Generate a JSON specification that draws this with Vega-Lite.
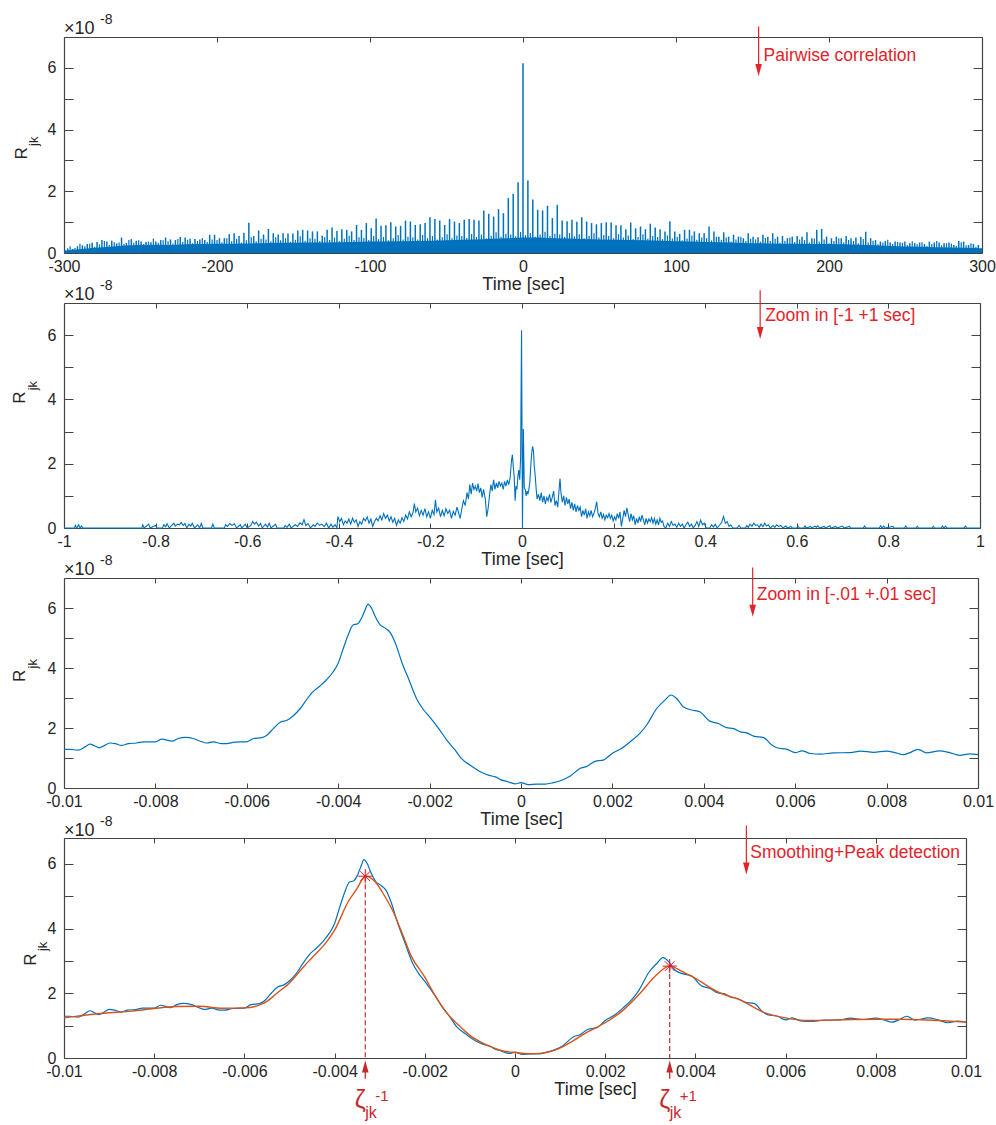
{
"$schema": "https://vega.github.io/schema/vega-lite/v6.json",
"background": "white",
"padding": {"top": 13, "left": 11, "right": 5, "bottom": 5},
"config": {
  "view": {"stroke": null},
  "font": "Liberation Sans",
  "axis": {"grid": false, "labelFont": "Liberation Sans", "labelFontSize": 16, "labelColor": "#262626", "domainColor": "#444444", "domainWidth": 1.2, "tickColor": "#444444", "tickWidth": 1, "titleFont": "Liberation Sans", "titleFontSize": 18, "titleFontWeight": "normal", "titleColor": "#262626", "labelFlush": false, "labelOverlap": false},
  "text": {"font": "Liberation Sans"}
},
"datasets": {
  "p1": [
    {"t":-297.6,"v":0.15},{"t":-294.4,"v":0.13},{"t":-291.2,"v":0.22},{"t":-288,"v":0.25},{"t":-284.8,"v":0.29},{"t":-281.6,"v":0.33},{"t":-278.4,"v":0.36},{"t":-275.2,"v":0.42},{"t":-272,"v":0.37},{"t":-268.8,"v":0.40},
    {"t":-265.6,"v":0.31},{"t":-262.4,"v":0.50},{"t":-259.2,"v":0.33},{"t":-256,"v":0.45},{"t":-252.8,"v":0.40},{"t":-249.6,"v":0.37},{"t":-246.4,"v":0.36},{"t":-243.2,"v":0.35},{"t":-240,"v":0.37},{"t":-236.8,"v":0.42},
    {"t":-233.6,"v":0.50},{"t":-230.4,"v":0.44},{"t":-227.2,"v":0.42},{"t":-224,"v":0.52},{"t":-220.8,"v":0.50},{"t":-217.6,"v":0.46},{"t":-214.4,"v":0.45},{"t":-211.2,"v":0.44},{"t":-208,"v":0.42},{"t":-204.8,"v":0.59},
    {"t":-201.6,"v":0.59},{"t":-198.4,"v":0.48},{"t":-195.2,"v":0.48},{"t":-192,"v":0.61},{"t":-188.8,"v":0.64},{"t":-185.6,"v":0.55},{"t":-182.4,"v":0.66},{"t":-179.2,"v":0.98},{"t":-176,"v":0.55},{"t":-172.8,"v":0.73},
    {"t":-169.6,"v":0.60},{"t":-166.4,"v":0.78},{"t":-163.2,"v":0.64},{"t":-160,"v":0.60},{"t":-156.8,"v":0.64},{"t":-153.6,"v":0.63},{"t":-150.4,"v":0.63},{"t":-147.2,"v":0.73},{"t":-144,"v":0.75},{"t":-140.8,"v":0.73},
    {"t":-137.6,"v":0.70},{"t":-134.4,"v":0.70},{"t":-131.2,"v":0.56},{"t":-128,"v":0.75},{"t":-124.8,"v":0.83},{"t":-121.6,"v":0.71},{"t":-118.4,"v":0.77},{"t":-115.2,"v":0.75},{"t":-112,"v":0.70},{"t":-108.8,"v":0.91},
    {"t":-105.6,"v":0.75},{"t":-102.4,"v":0.97},{"t":-99.2,"v":0.80},{"t":-96,"v":1.12},{"t":-92.8,"v":0.88},{"t":-89.6,"v":0.90},{"t":-86.4,"v":1.00},{"t":-83.2,"v":0.86},{"t":-80,"v":0.88},{"t":-76.8,"v":1.05},
    {"t":-73.6,"v":1.02},{"t":-70.4,"v":0.91},{"t":-67.2,"v":0.93},{"t":-64,"v":0.97},{"t":-60.8,"v":1.16},{"t":-57.6,"v":1.10},{"t":-54.4,"v":1.05},{"t":-51.2,"v":0.91},{"t":-48,"v":1.10},{"t":-44.8,"v":1.02},
    {"t":-41.6,"v":0.97},{"t":-38.4,"v":1.08},{"t":-35.2,"v":1.10},{"t":-32,"v":1.08},{"t":-28.8,"v":1.05},
    {"t":-25.6,"v":1.38},{"t":-22.4,"v":1.27},{"t":-19.2,"v":1.18},{"t":-16,"v":1.42},{"t":-12.8,"v":1.29},{"t":-9.6,"v":1.78},{"t":-6.4,"v":1.92},{"t":-3.2,"v":2.29},
    {"t":0,"v":6.15},
    {"t":3.2,"v":2.35},{"t":6.4,"v":1.73},{"t":9.6,"v":1.40},{"t":12.8,"v":1.38},{"t":16,"v":1.53},{"t":19.2,"v":1.13},{"t":22.4,"v":1.56},{"t":25.6,"v":1.05},{"t":28.8,"v":1.03},{"t":32,"v":1.08},
    {"t":35.2,"v":1.01},{"t":38.4,"v":1.16},{"t":41.6,"v":1.02},{"t":44.8,"v":0.97},{"t":48,"v":0.93},{"t":51.2,"v":0.97},{"t":54.4,"v":1.00},{"t":57.6,"v":0.99},{"t":60.8,"v":0.90},{"t":64,"v":0.90},
    {"t":67.2,"v":0.77},{"t":70.4,"v":0.99},{"t":73.6,"v":0.80},{"t":76.8,"v":0.86},{"t":80,"v":0.77},{"t":83.2,"v":0.95},{"t":86.4,"v":0.83},{"t":89.6,"v":0.77},{"t":92.8,"v":0.70},{"t":96,"v":1.03},
    {"t":99.2,"v":0.70},{"t":102.4,"v":0.62},{"t":105.6,"v":0.75},{"t":108.8,"v":0.75},{"t":112,"v":0.70},{"t":115.2,"v":0.64},{"t":118.4,"v":0.64},{"t":121.6,"v":0.86},{"t":124.8,"v":0.70},{"t":128,"v":0.53},
    {"t":131.2,"v":0.67},{"t":134.4,"v":0.53},{"t":137.6,"v":0.59},{"t":140.8,"v":0.53},{"t":144,"v":0.48},{"t":147.2,"v":0.64},{"t":150.4,"v":0.53},{"t":153.6,"v":0.51},{"t":156.8,"v":0.59},{"t":160,"v":0.53},
    {"t":163.2,"v":0.64},{"t":166.4,"v":0.53},{"t":169.6,"v":0.55},{"t":172.8,"v":0.48},{"t":176,"v":0.53},{"t":179.2,"v":0.55},{"t":182.4,"v":0.53},{"t":185.6,"v":0.67},{"t":188.8,"v":0.48},{"t":192,"v":0.75},
    {"t":195.2,"v":0.78},{"t":198.4,"v":0.53},{"t":201.6,"v":0.48},{"t":204.8,"v":0.53},{"t":208,"v":0.48},{"t":211.2,"v":0.55},{"t":214.4,"v":0.48},{"t":217.6,"v":0.50},{"t":220.8,"v":0.53},{"t":224,"v":0.69},
    {"t":227.2,"v":0.48},{"t":230.4,"v":0.42},{"t":233.6,"v":0.37},{"t":236.8,"v":0.39},{"t":240,"v":0.34},{"t":243.2,"v":0.37},{"t":246.4,"v":0.34},{"t":249.6,"v":0.37},{"t":252.8,"v":0.32},{"t":256,"v":0.32},
    {"t":259.2,"v":0.34},{"t":262.4,"v":0.29},{"t":265.6,"v":0.37},{"t":268.8,"v":0.34},{"t":272,"v":0.34},{"t":275.2,"v":0.32},{"t":278.4,"v":0.34},{"t":281.6,"v":0.26},{"t":284.8,"v":0.39},{"t":288,"v":0.37},
    {"t":291.2,"v":0.26},{"t":294.4,"v":0.29},{"t":297.6,"v":0.26}
  ],
  "p1s": [
    {"t":-296,"v":0.22},{"t":-292.8,"v":0.16},{"t":-289.6,"v":0.30},{"t":-286.4,"v":0.22},{"t":-283.2,"v":0.30},{"t":-280,"v":0.20},{"t":-276.8,"v":0.28},{"t":-273.6,"v":0.39},{"t":-270.4,"v":0.26},{"t":-267.2,"v":0.35},
    {"t":-264,"v":0.34},{"t":-260.8,"v":0.29},{"t":-257.6,"v":0.42},{"t":-254.4,"v":0.33},{"t":-251.2,"v":0.41},{"t":-248,"v":0.29},{"t":-244.8,"v":0.37},{"t":-241.6,"v":0.47},{"t":-238.4,"v":0.33},{"t":-235.2,"v":0.41},
    {"t":-232,"v":0.38},{"t":-228.8,"v":0.31},{"t":-225.6,"v":0.45},{"t":-222.4,"v":0.36},{"t":-219.2,"v":0.43},{"t":-216,"v":0.32},{"t":-212.8,"v":0.39},{"t":-209.6,"v":0.49},{"t":-206.4,"v":0.36},{"t":-203.2,"v":0.44},
    {"t":-200,"v":0.42},{"t":-196.8,"v":0.35},{"t":-193.6,"v":0.48},{"t":-190.4,"v":0.38},{"t":-187.2,"v":0.46},{"t":-184,"v":0.34},{"t":-180.8,"v":0.41},{"t":-177.6,"v":0.51},{"t":-174.4,"v":0.38},{"t":-171.2,"v":0.46},
    {"t":-168,"v":0.44},{"t":-164.8,"v":0.38},{"t":-161.6,"v":0.51},{"t":-158.4,"v":0.41},{"t":-155.2,"v":0.48},{"t":-152,"v":0.36},{"t":-148.8,"v":0.43},{"t":-145.6,"v":0.54},{"t":-142.4,"v":0.40},{"t":-139.2,"v":0.48},
    {"t":-136,"v":0.46},{"t":-132.8,"v":0.39},{"t":-129.6,"v":0.52},{"t":-126.4,"v":0.42},{"t":-123.2,"v":0.50},{"t":-120,"v":0.38},{"t":-116.8,"v":0.46},{"t":-113.6,"v":0.56},{"t":-110.4,"v":0.42},{"t":-107.2,"v":0.51},
    {"t":-104,"v":0.49},{"t":-100.8,"v":0.42},{"t":-97.6,"v":0.55},{"t":-94.4,"v":0.45},{"t":-91.2,"v":0.52},{"t":-88,"v":0.41},{"t":-84.8,"v":0.48},{"t":-81.6,"v":0.58},{"t":-78.4,"v":0.44},{"t":-75.2,"v":0.53},
    {"t":-72,"v":0.51},{"t":-68.8,"v":0.44},{"t":-65.6,"v":0.58},{"t":-62.4,"v":0.48},{"t":-59.2,"v":0.55},{"t":-56,"v":0.44},{"t":-52.8,"v":0.51},{"t":-49.6,"v":0.61},{"t":-46.4,"v":0.48},{"t":-43.2,"v":0.57},
    {"t":-40,"v":0.55},{"t":-36.8,"v":0.49},{"t":-33.6,"v":0.62},{"t":-30.4,"v":0.52},{"t":-27.2,"v":0.60},{"t":-24,"v":0.48},{"t":-20.8,"v":0.56},{"t":-17.6,"v":0.67},{"t":-14.4,"v":0.53},{"t":-11.2,"v":0.62},
    {"t":-8,"v":0.60},{"t":-4.8,"v":0.54},{"t":-1.6,"v":0.68},{"t":1.6,"v":0.58},{"t":4.8,"v":0.65},{"t":8,"v":0.53},{"t":11.2,"v":0.60},{"t":14.4,"v":0.69},{"t":17.6,"v":0.55},{"t":20.8,"v":0.62},
    {"t":24,"v":0.60},{"t":27.2,"v":0.52},{"t":30.4,"v":0.65},{"t":33.6,"v":0.54},{"t":36.8,"v":0.61},{"t":40,"v":0.48},{"t":43.2,"v":0.55},{"t":46.4,"v":0.64},{"t":49.6,"v":0.50},{"t":52.8,"v":0.58},
    {"t":56,"v":0.55},{"t":59.2,"v":0.48},{"t":62.4,"v":0.61},{"t":65.6,"v":0.50},{"t":68.8,"v":0.57},{"t":72,"v":0.45},{"t":75.2,"v":0.52},{"t":78.4,"v":0.61},{"t":81.6,"v":0.47},{"t":84.8,"v":0.55},
    {"t":88,"v":0.52},{"t":91.2,"v":0.45},{"t":94.4,"v":0.57},{"t":97.6,"v":0.47},{"t":100.8,"v":0.53},{"t":104,"v":0.41},{"t":107.2,"v":0.47},{"t":110.4,"v":0.57},{"t":113.6,"v":0.43},{"t":116.8,"v":0.50},
    {"t":120,"v":0.48},{"t":123.2,"v":0.41},{"t":126.4,"v":0.53},{"t":129.6,"v":0.43},{"t":132.8,"v":0.50},{"t":136,"v":0.37},{"t":139.2,"v":0.44},{"t":142.4,"v":0.53},{"t":145.6,"v":0.39},{"t":148.8,"v":0.46},
    {"t":152,"v":0.44},{"t":155.2,"v":0.37},{"t":158.4,"v":0.49},{"t":161.6,"v":0.39},{"t":164.8,"v":0.46},{"t":168,"v":0.33},{"t":171.2,"v":0.40},{"t":174.4,"v":0.50},{"t":177.6,"v":0.36},{"t":180.8,"v":0.44},
    {"t":184,"v":0.42},{"t":187.2,"v":0.34},{"t":190.4,"v":0.47},{"t":193.6,"v":0.37},{"t":196.8,"v":0.44},{"t":200,"v":0.32},{"t":203.2,"v":0.39},{"t":206.4,"v":0.48},{"t":209.6,"v":0.34},{"t":212.8,"v":0.42},
    {"t":216,"v":0.39},{"t":219.2,"v":0.32},{"t":222.4,"v":0.45},{"t":225.6,"v":0.34},{"t":228.8,"v":0.40},{"t":232,"v":0.28},{"t":235.2,"v":0.34},{"t":238.4,"v":0.43},{"t":241.6,"v":0.29},{"t":244.8,"v":0.36},
    {"t":248,"v":0.33},{"t":251.2,"v":0.26},{"t":254.4,"v":0.38},{"t":257.6,"v":0.28},{"t":260.8,"v":0.35},{"t":264,"v":0.23},{"t":267.2,"v":0.29},{"t":270.4,"v":0.39},{"t":273.6,"v":0.25},{"t":276.8,"v":0.32},
    {"t":280,"v":0.30},{"t":283.2,"v":0.23},{"t":286.4,"v":0.35},{"t":289.6,"v":0.25},{"t":292.8,"v":0.32},{"t":296,"v":0.20}
  ],
  "p1band": [
    {"t":-300,"v":0.08},{"t":-290,"v":0.12},{"t":-280,"v":0.17},{"t":-270,"v":0.2},{"t":-260,"v":0.24},{"t":-250,"v":0.26},{"t":-240,"v":0.27},{"t":-230,"v":0.26},{"t":-220,"v":0.28},{"t":-210,"v":0.29},
    {"t":-200,"v":0.3},{"t":-190,"v":0.3},{"t":-180,"v":0.31},{"t":-170,"v":0.32},{"t":-160,"v":0.33},{"t":-150,"v":0.33},{"t":-140,"v":0.34},{"t":-130,"v":0.34},{"t":-120,"v":0.35},{"t":-110,"v":0.36},
    {"t":-100,"v":0.37},{"t":-90,"v":0.37},{"t":-80,"v":0.38},{"t":-70,"v":0.39},{"t":-60,"v":0.4},{"t":-50,"v":0.41},{"t":-40,"v":0.43},{"t":-30,"v":0.44},{"t":-20,"v":0.46},{"t":-10,"v":0.48},
    {"t":0,"v":0.5},{"t":10,"v":0.5},{"t":20,"v":0.48},{"t":30,"v":0.47},{"t":40,"v":0.45},{"t":50,"v":0.44},{"t":60,"v":0.43},{"t":70,"v":0.42},{"t":80,"v":0.41},{"t":90,"v":0.4},
    {"t":100,"v":0.38},{"t":110,"v":0.37},{"t":120,"v":0.36},{"t":130,"v":0.35},{"t":140,"v":0.33},{"t":150,"v":0.32},{"t":160,"v":0.31},{"t":170,"v":0.3},{"t":180,"v":0.3},{"t":190,"v":0.29},
    {"t":200,"v":0.29},{"t":210,"v":0.28},{"t":220,"v":0.27},{"t":230,"v":0.25},{"t":240,"v":0.23},{"t":250,"v":0.21},{"t":260,"v":0.2},{"t":270,"v":0.19},{"t":280,"v":0.18},{"t":290,"v":0.17},{"t":300,"v":0.15}
  ],
  "p2": [
    {"t":-1.0,"v":0},{"t":-0.977,"v":0},{"t":-0.975,"v":0.08},{"t":-0.972,"v":0},{"t":-0.968,"v":0.1},{"t":-0.965,"v":0},{"t":-0.962,"v":0.06},{"t":-0.959,"v":0},
    {"t":-0.83,"v":0},{"t":-0.828,"v":0.1},{"t":-0.825,"v":0},{"t":-0.815,"v":0.12},{"t":-0.812,"v":0},{"t":-0.8,"v":0.08},{"t":-0.797,"v":0},{"t":-0.785,"v":0},{"t":-0.782,"v":0.1},{"t":-0.778,"v":0.04},
    {"t":-0.775,"v":0.13},{"t":-0.77,"v":0},{"t":-0.765,"v":0.08},{"t":-0.76,"v":0.15},{"t":-0.757,"v":0.06},{"t":-0.752,"v":0.12},{"t":-0.748,"v":0.1},{"t":-0.744,"v":0.17},{"t":-0.74,"v":0.08},{"t":-0.736,"v":0.14},
    {"t":-0.732,"v":0},{"t":-0.727,"v":0.12},{"t":-0.723,"v":0.06},{"t":-0.72,"v":0.15},{"t":-0.715,"v":0},{"t":-0.708,"v":0.1},{"t":-0.704,"v":0},{"t":-0.7,"v":0.14},{"t":-0.697,"v":0},{"t":-0.678,"v":0},
    {"t":-0.675,"v":0.12},{"t":-0.672,"v":0},{"t":-0.65,"v":0},{"t":-0.647,"v":0.1},{"t":-0.643,"v":0.05},{"t":-0.638,"v":0.14},{"t":-0.633,"v":0.08},{"t":-0.628,"v":0.13},{"t":-0.623,"v":0},{"t":-0.615,"v":0.1},
    {"t":-0.612,"v":0},{"t":-0.604,"v":0.12},{"t":-0.6,"v":0},{"t":-0.592,"v":0.08},{"t":-0.588,"v":0.2},{"t":-0.584,"v":0.12},{"t":-0.58,"v":0.18},{"t":-0.575,"v":0.06},{"t":-0.571,"v":0.14},{"t":-0.567,"v":0},
    {"t":-0.56,"v":0.12},{"t":-0.556,"v":0.03},{"t":-0.552,"v":0.15},{"t":-0.548,"v":0},{"t":-0.538,"v":0.12},{"t":-0.535,"v":0},{"t":-0.52,"v":0},{"t":-0.517,"v":0.08},{"t":-0.513,"v":0.02},{"t":-0.508,"v":0.12},
    {"t":-0.504,"v":0},{"t":-0.495,"v":0.1},{"t":-0.49,"v":0.05},{"t":-0.485,"v":0.16},{"t":-0.48,"v":0.1},{"t":-0.476,"v":0.26},{"t":-0.472,"v":0.08},{"t":-0.467,"v":0.14},{"t":-0.462,"v":0},{"t":-0.456,"v":0.1},
    {"t":-0.452,"v":0.05},{"t":-0.447,"v":0.15},{"t":-0.442,"v":0.08},{"t":-0.437,"v":0.12},{"t":-0.432,"v":0.04},{"t":-0.427,"v":0.15},{"t":-0.422,"v":0},{"t":-0.417,"v":0.12},{"t":-0.413,"v":0.02},{"t":-0.408,"v":0.1},
    {"t":-0.404,"v":0},{"t":-0.402,"v":0.36},{"t":-0.398,"v":0.2},{"t":-0.394,"v":0.3},{"t":-0.39,"v":0.1},{"t":-0.386,"v":0.22},{"t":-0.382,"v":0.15},{"t":-0.378,"v":0.28},{"t":-0.374,"v":0.12},{"t":-0.37,"v":0.3},
    {"t":-0.366,"v":0.18},{"t":-0.362,"v":0.25},{"t":-0.358,"v":0.05},{"t":-0.354,"v":0.2},{"t":-0.35,"v":0.12},{"t":-0.346,"v":0.3},{"t":-0.342,"v":0.22},{"t":-0.338,"v":0.35},{"t":-0.334,"v":0.15},{"t":-0.33,"v":0.28},
    {"t":-0.326,"v":0.05},{"t":-0.322,"v":0.2},{"t":-0.318,"v":0.3},{"t":-0.314,"v":0.22},{"t":-0.31,"v":0.38},{"t":-0.306,"v":0.25},{"t":-0.302,"v":0.45},{"t":-0.298,"v":0.3},{"t":-0.294,"v":0.4},{"t":-0.29,"v":0.22},
    {"t":-0.286,"v":0.35},{"t":-0.282,"v":0.18},{"t":-0.278,"v":0.3},{"t":-0.274,"v":0.08},{"t":-0.27,"v":0.25},{"t":-0.266,"v":0.15},{"t":-0.262,"v":0.32},{"t":-0.258,"v":0.2},{"t":-0.254,"v":0.4},{"t":-0.25,"v":0.28},
    {"t":-0.246,"v":0.5},{"t":-0.242,"v":0.35},{"t":-0.238,"v":0.48},{"t":-0.235,"v":0.76},{"t":-0.232,"v":0.5},{"t":-0.228,"v":0.62},{"t":-0.224,"v":0.38},{"t":-0.22,"v":0.55},{"t":-0.216,"v":0.4},{"t":-0.212,"v":0.6},
    {"t":-0.208,"v":0.35},{"t":-0.204,"v":0.5},{"t":-0.2,"v":0.3},{"t":-0.196,"v":0.55},{"t":-0.192,"v":0.42},{"t":-0.189,"v":0.88},{"t":-0.186,"v":0.5},{"t":-0.182,"v":0.62},{"t":-0.178,"v":0.35},{"t":-0.174,"v":0.55},
    {"t":-0.17,"v":0.38},{"t":-0.166,"v":0.6},{"t":-0.162,"v":0.45},{"t":-0.158,"v":0.55},{"t":-0.154,"v":0.3},{"t":-0.15,"v":0.52},{"t":-0.146,"v":0.4},{"t":-0.142,"v":0.65},{"t":-0.138,"v":0.45},{"t":-0.135,"v":0.3},
    {"t":-0.132,"v":0.55},{"t":-0.128,"v":0.85},{"t":-0.124,"v":0.7},{"t":-0.12,"v":1.1},{"t":-0.117,"v":0.9},{"t":-0.114,"v":1.35},{"t":-0.111,"v":1.05},{"t":-0.108,"v":1.4},{"t":-0.105,"v":1.2},{"t":-0.102,"v":1.3},
    {"t":-0.099,"v":1.15},{"t":-0.096,"v":1.38},{"t":-0.093,"v":1.1},{"t":-0.09,"v":1.25},{"t":-0.087,"v":0.95},{"t":-0.084,"v":1.2},{"t":-0.08,"v":0.9},{"t":-0.077,"v":0.35},{"t":-0.074,"v":0.6},{"t":-0.071,"v":1.0},
    {"t":-0.068,"v":1.35},{"t":-0.065,"v":1.15},{"t":-0.062,"v":1.5},{"t":-0.059,"v":1.2},{"t":-0.056,"v":1.4},{"t":-0.053,"v":1.25},{"t":-0.05,"v":1.45},{"t":-0.047,"v":1.3},{"t":-0.044,"v":1.4},{"t":-0.041,"v":1.2},
    {"t":-0.038,"v":1.45},{"t":-0.035,"v":1.3},{"t":-0.032,"v":1.5},{"t":-0.029,"v":1.35},{"t":-0.026,"v":1.55},{"t":-0.023,"v":2.1},{"t":-0.021,"v":2.28},{"t":-0.019,"v":1.9},{"t":-0.017,"v":1.6},{"t":-0.015,"v":0.85},
    {"t":-0.013,"v":1.3},{"t":-0.011,"v":1.2},{"t":-0.009,"v":1.6},{"t":-0.007,"v":1.8},{"t":-0.005,"v":1.5},{"t":-0.003,"v":2.2},{"t":-0.001,"v":6.15},{"t":0.001,"v":0},{"t":0.003,"v":3.08},{"t":0.005,"v":1.25},
    {"t":0.007,"v":1.2},{"t":0.009,"v":1.0},{"t":0.011,"v":1.15},{"t":0.013,"v":1.05},{"t":0.015,"v":1.2},{"t":0.017,"v":1.4},{"t":0.019,"v":1.9},{"t":0.021,"v":2.3},{"t":0.023,"v":2.54},{"t":0.025,"v":2.4},
    {"t":0.027,"v":1.9},{"t":0.029,"v":1.6},{"t":0.031,"v":1.2},{"t":0.033,"v":0.9},{"t":0.036,"v":1.05},{"t":0.039,"v":0.85},{"t":0.042,"v":1.1},{"t":0.045,"v":0.8},{"t":0.048,"v":1.0},{"t":0.051,"v":0.75},
    {"t":0.054,"v":0.95},{"t":0.057,"v":0.85},{"t":0.06,"v":1.05},{"t":0.063,"v":0.8},{"t":0.066,"v":0.95},{"t":0.069,"v":1.15},{"t":0.072,"v":0.7},{"t":0.075,"v":0.85},{"t":0.078,"v":0.65},{"t":0.081,"v":1.2},
    {"t":0.083,"v":1.54},{"t":0.085,"v":1.1},{"t":0.088,"v":0.8},{"t":0.091,"v":1.0},{"t":0.094,"v":0.7},{"t":0.097,"v":0.95},{"t":0.1,"v":0.75},{"t":0.103,"v":0.9},{"t":0.106,"v":0.6},{"t":0.109,"v":0.8},
    {"t":0.112,"v":0.55},{"t":0.115,"v":0.75},{"t":0.118,"v":0.5},{"t":0.121,"v":0.7},{"t":0.124,"v":0.55},{"t":0.127,"v":0.65},{"t":0.13,"v":0.35},{"t":0.133,"v":0.55},{"t":0.136,"v":0.4},{"t":0.139,"v":0.6},
    {"t":0.142,"v":0.3},{"t":0.145,"v":0.5},{"t":0.148,"v":0.38},{"t":0.151,"v":0.55},{"t":0.154,"v":0.35},{"t":0.157,"v":0.45},{"t":0.16,"v":0.6},{"t":0.163,"v":0.82},{"t":0.166,"v":0.45},{"t":0.169,"v":0.35},
    {"t":0.172,"v":0.5},{"t":0.175,"v":0.3},{"t":0.178,"v":0.42},{"t":0.181,"v":0.25},{"t":0.184,"v":0.4},{"t":0.187,"v":0.32},{"t":0.19,"v":0.45},{"t":0.193,"v":0.3},{"t":0.196,"v":0.4},{"t":0.199,"v":0.22},
    {"t":0.202,"v":0.35},{"t":0.205,"v":0.25},{"t":0.208,"v":0.45},{"t":0.211,"v":0.3},{"t":0.214,"v":0.5},{"t":0.217,"v":0.05},{"t":0.22,"v":0.3},{"t":0.223,"v":0.55},{"t":0.226,"v":0.35},{"t":0.229,"v":0.63},
    {"t":0.232,"v":0.4},{"t":0.235,"v":0.2},{"t":0.238,"v":0.45},{"t":0.241,"v":0.25},{"t":0.244,"v":0.38},{"t":0.247,"v":0.1},{"t":0.25,"v":0.3},{"t":0.253,"v":0.15},{"t":0.256,"v":0.35},{"t":0.259,"v":0.2},
    {"t":0.262,"v":0.4},{"t":0.265,"v":0.25},{"t":0.268,"v":0.1},{"t":0.271,"v":0.3},{"t":0.274,"v":0.15},{"t":0.277,"v":0.28},{"t":0.28,"v":0.2},{"t":0.283,"v":0.32},{"t":0.286,"v":0.15},{"t":0.289,"v":0.3},
    {"t":0.292,"v":0.12},{"t":0.295,"v":0.25},{"t":0.298,"v":0.1},{"t":0.301,"v":0.3},{"t":0.304,"v":0.18},{"t":0.307,"v":0.22},{"t":0.31,"v":0.05},{"t":0.314,"v":0},{"t":0.318,"v":0.15},{"t":0.322,"v":0.05},
    {"t":0.326,"v":0.2},{"t":0.33,"v":0.08},{"t":0.334,"v":0.12},{"t":0.338,"v":0.02},{"t":0.342,"v":0.15},{"t":0.346,"v":0.05},{"t":0.35,"v":0.12},{"t":0.354,"v":0},{"t":0.358,"v":0.1},{"t":0.362,"v":0.18},
    {"t":0.366,"v":0.05},{"t":0.37,"v":0.12},{"t":0.374,"v":0},{"t":0.378,"v":0.08},{"t":0.382,"v":0.2},{"t":0.386,"v":0.05},{"t":0.39,"v":0.25},{"t":0.394,"v":0.1},{"t":0.398,"v":0.15},{"t":0.402,"v":0},
    {"t":0.41,"v":0},{"t":0.414,"v":0.1},{"t":0.418,"v":0.03},{"t":0.422,"v":0.12},{"t":0.426,"v":0},{"t":0.432,"v":0.1},{"t":0.436,"v":0.18},{"t":0.44,"v":0.36},{"t":0.444,"v":0.15},{"t":0.448,"v":0.2},
    {"t":0.452,"v":0.05},{"t":0.456,"v":0.1},{"t":0.46,"v":0},{"t":0.47,"v":0},{"t":0.474,"v":0.08},{"t":0.478,"v":0},{"t":0.488,"v":0},{"t":0.491,"v":0.08},{"t":0.494,"v":0.02},{"t":0.498,"v":0.12},
    {"t":0.502,"v":0.05},{"t":0.506,"v":0.15},{"t":0.51,"v":0.08},{"t":0.514,"v":0.1},{"t":0.518,"v":0.02},{"t":0.522,"v":0.12},{"t":0.526,"v":0.04},{"t":0.53,"v":0.15},{"t":0.534,"v":0.06},{"t":0.538,"v":0.1},
    {"t":0.542,"v":0},{"t":0.548,"v":0.08},{"t":0.552,"v":0.02},{"t":0.556,"v":0.1},{"t":0.56,"v":0.05},{"t":0.565,"v":0.08},{"t":0.57,"v":0},{"t":0.576,"v":0.06},{"t":0.58,"v":0},{"t":0.587,"v":0.05},
    {"t":0.59,"v":0},{"t":0.6,"v":0},{"t":0.603,"v":0.05},{"t":0.606,"v":0},{"t":0.615,"v":0},{"t":0.618,"v":0.06},{"t":0.621,"v":0},{"t":0.63,"v":0.05},{"t":0.633,"v":0},{"t":0.64,"v":0.06},
    {"t":0.643,"v":0.02},{"t":0.646,"v":0.07},{"t":0.65,"v":0},{"t":0.66,"v":0.05},{"t":0.663,"v":0},{"t":0.672,"v":0.07},{"t":0.675,"v":0},{"t":0.685,"v":0.05},{"t":0.688,"v":0},{"t":0.7,"v":0.06},
    {"t":0.703,"v":0},{"t":0.715,"v":0.05},{"t":0.718,"v":0},{"t":0.745,"v":0},{"t":0.748,"v":0.06},{"t":0.751,"v":0},{"t":0.78,"v":0},{"t":0.783,"v":0.07},{"t":0.786,"v":0},{"t":0.79,"v":0.06},
    {"t":0.793,"v":0},{"t":0.81,"v":0.05},{"t":0.813,"v":0},{"t":0.835,"v":0},{"t":0.838,"v":0.06},{"t":0.841,"v":0},{"t":0.86,"v":0},{"t":0.863,"v":0.05},{"t":0.866,"v":0},{"t":0.895,"v":0},
    {"t":0.898,"v":0.05},{"t":0.901,"v":0},{"t":0.915,"v":0},{"t":0.918,"v":0.06},{"t":0.921,"v":0},{"t":0.925,"v":0.05},{"t":0.928,"v":0},{"t":0.965,"v":0},{"t":0.968,"v":0.06},{"t":0.971,"v":0},{"t":1.0,"v":0}
  ],
  "p3": [
    {"t":-0.01,"v":1.29},{"t":-0.00987,"v":1.29},{"t":-0.00969,"v":1.26},{"t":-0.00954,"v":1.37},{"t":-0.00943,"v":1.46},{"t":-0.00932,"v":1.40},{"t":-0.00923,"v":1.34},{"t":-0.0091,"v":1.43},{"t":-0.00899,"v":1.50},{"t":-0.00888,"v":1.48},
    {"t":-0.00874,"v":1.42},{"t":-0.00859,"v":1.48},{"t":-0.00841,"v":1.50},{"t":-0.00826,"v":1.54},{"t":-0.008,"v":1.54},{"t":-0.00786,"v":1.63},{"t":-0.00764,"v":1.56},{"t":-0.0075,"v":1.65},{"t":-0.00735,"v":1.69},{"t":-0.00717,"v":1.65},
    {"t":-0.00702,"v":1.56},{"t":-0.00688,"v":1.50},{"t":-0.00673,"v":1.54},{"t":-0.00655,"v":1.48},{"t":-0.00644,"v":1.48},{"t":-0.00626,"v":1.53},{"t":-0.006,"v":1.54},{"t":-0.00585,"v":1.65},{"t":-0.00567,"v":1.68},{"t":-0.00556,"v":1.76},
    {"t":-0.00542,"v":1.98},{"t":-0.00527,"v":2.19},{"t":-0.00512,"v":2.26},{"t":-0.00498,"v":2.41},{"t":-0.00483,"v":2.65},{"t":-0.00469,"v":2.95},{"t":-0.00455,"v":3.21},{"t":-0.0044,"v":3.40},{"t":-0.00426,"v":3.60},{"t":-0.00412,"v":3.85},
    {"t":-0.004,"v":4.16},{"t":-0.0039,"v":4.60},{"t":-0.00378,"v":5.11},{"t":-0.00367,"v":5.44},{"t":-0.00358,"v":5.47},{"t":-0.00349,"v":5.66},{"t":-0.00341,"v":5.94},{"t":-0.00335,"v":6.13},{"t":-0.00328,"v":6.02},{"t":-0.00319,"v":5.72},
    {"t":-0.00308,"v":5.44},{"t":-0.00297,"v":5.33},{"t":-0.00286,"v":5.18},{"t":-0.00275,"v":4.83},{"t":-0.0026,"v":4.16},{"t":-0.00245,"v":3.60},{"t":-0.00227,"v":2.93},{"t":-0.00213,"v":2.60},{"t":-0.002,"v":2.37},{"t":-0.0018,"v":1.98},
    {"t":-0.00162,"v":1.59},{"t":-0.00144,"v":1.26},{"t":-0.00129,"v":0.96},{"t":-0.00111,"v":0.76},{"t":-0.00089,"v":0.54},{"t":-0.0007,"v":0.42},{"t":-0.00056,"v":0.37},{"t":-0.00045,"v":0.28},{"t":-0.00031,"v":0.22},{"t":-0.00013,"v":0.14},
    {"t":0,"v":0.18},{"t":0.00016,"v":0.11},{"t":0.00034,"v":0.13},{"t":0.00053,"v":0.13},{"t":0.00071,"v":0.18},{"t":0.00089,"v":0.26},{"t":0.00107,"v":0.39},{"t":0.00129,"v":0.65},{"t":0.00144,"v":0.72},{"t":0.00162,"v":0.89},
    {"t":0.0018,"v":0.93},{"t":0.00201,"v":1.17},{"t":0.0022,"v":1.32},{"t":0.00239,"v":1.54},{"t":0.0026,"v":1.82},{"t":0.00275,"v":2.10},{"t":0.00297,"v":2.65},{"t":0.00315,"v":2.93},{"t":0.00328,"v":3.10},{"t":0.0034,"v":2.99},
    {"t":0.00355,"v":2.71},{"t":0.00373,"v":2.60},{"t":0.00391,"v":2.54},{"t":0.00413,"v":2.23},{"t":0.00432,"v":2.15},{"t":0.0045,"v":2.01},{"t":0.00465,"v":1.98},{"t":0.0048,"v":1.87},{"t":0.00494,"v":1.84},{"t":0.00509,"v":1.73},
    {"t":0.00531,"v":1.68},{"t":0.00549,"v":1.43},{"t":0.0056,"v":1.34},{"t":0.00582,"v":1.29},{"t":0.006,"v":1.18},{"t":0.00615,"v":1.24},{"t":0.00633,"v":1.15},{"t":0.00655,"v":1.13},{"t":0.00684,"v":1.17},{"t":0.00721,"v":1.18},
    {"t":0.00743,"v":1.23},{"t":0.00772,"v":1.19},{"t":0.008,"v":1.23},{"t":0.00818,"v":1.18},{"t":0.00836,"v":1.11},{"t":0.00851,"v":1.18},{"t":0.00869,"v":1.29},{"t":0.00887,"v":1.17},{"t":0.00916,"v":1.24},{"t":0.00938,"v":1.18},
    {"t":0.0096,"v":1.09},{"t":0.00982,"v":1.14},{"t":0.01,"v":1.11}
  ],
  "p4s": [
    {"t":-0.01,"v":1.24},{"t":-0.0095,"v":1.33},{"t":-0.009,"v":1.40},{"t":-0.0085,"v":1.45},{"t":-0.008,"v":1.53},{"t":-0.0075,"v":1.59},{"t":-0.007,"v":1.60},{"t":-0.0065,"v":1.54},{"t":-0.006,"v":1.55},{"t":-0.0057,"v":1.62},
    {"t":-0.0055,"v":1.75},{"t":-0.0053,"v":1.98},{"t":-0.005,"v":2.32},{"t":-0.0047,"v":2.80},{"t":-0.0045,"v":3.10},{"t":-0.0042,"v":3.55},{"t":-0.004,"v":3.95},{"t":-0.0037,"v":4.83},{"t":-0.0035,"v":5.24},{"t":-0.00332,"v":5.62},
    {"t":-0.0031,"v":5.45},{"t":-0.0029,"v":5.03},{"t":-0.0027,"v":4.52},{"t":-0.0025,"v":3.85},{"t":-0.0023,"v":3.15},{"t":-0.002,"v":2.50},{"t":-0.0018,"v":2.00},{"t":-0.0015,"v":1.37},{"t":-0.0012,"v":0.95},{"t":-0.001,"v":0.70},
    {"t":-0.0007,"v":0.45},{"t":-0.0005,"v":0.33},{"t":-0.0002,"v":0.20},{"t":0,"v":0.17},{"t":0.0003,"v":0.13},{"t":0.0006,"v":0.15},{"t":0.0009,"v":0.25},{"t":0.0012,"v":0.46},{"t":0.0016,"v":0.80},{"t":0.002,"v":1.09},
    {"t":0.0024,"v":1.48},{"t":0.0028,"v":2.04},{"t":0.0031,"v":2.52},{"t":0.00343,"v":2.84},{"t":0.0037,"v":2.68},{"t":0.004,"v":2.46},{"t":0.0045,"v":2.04},{"t":0.005,"v":1.79},{"t":0.0055,"v":1.42},{"t":0.006,"v":1.24},
    {"t":0.0065,"v":1.16},{"t":0.007,"v":1.17},{"t":0.0075,"v":1.19},{"t":0.008,"v":1.20},{"t":0.0085,"v":1.20},{"t":0.009,"v":1.18},{"t":0.0095,"v":1.15},{"t":0.01,"v":1.11}
  ],
  "peaks": [
    {"t":-0.00332,"v":5.62,"lab":"-1"},
    {"t":0.00343,"v":2.84,"lab":"+1"}
  ]
},
"bounds": "flush",
"spacing": 50,
"vconcat": [
  {
    "width": 918, "height": 216,
    "resolve": {"axis": {"x": "independent", "y": "independent"}},
    "layer": [
      {"data": {"name": "p1band"}, "mark": {"type": "area", "color": "#0072BD", "opacity": 1},
       "encoding": {
         "x": {"field": "t", "type": "quantitative", "scale": {"domain": [-300, 300], "nice": false, "zero": false},
               "axis": {"orient": "bottom", "values": [-300,-200,-100,0,100,200,300], "labelExpr": "'' + datum.value", "tickSize": -5, "labelPadding": 10, "title": "Time [sec]", "titlePadding": 1}},
         "y": {"field": "v", "type": "quantitative", "scale": {"domain": [0, 7], "nice": false},
               "axis": {"orient": "left", "values": [0,1,2,3,4,5,6], "labelExpr": "datum.value % 2 == 0 ? datum.label : ''", "tickSize": -9, "labelPadding": 17, "title": null}}
       }},
      {
        "data": {"values": [{}]},
        "layer": [
          {"data": {"name": "p1s"}, "mark": {"type": "rule", "color": "#0072BD", "strokeWidth": 1.2},
           "encoding": {"x": {"field": "t", "type": "quantitative", "axis": null}, "y": {"field": "v", "type": "quantitative", "axis": null}, "y2": {"datum": 0}}},
          {"data": {"name": "p1"}, "mark": {"type": "rule", "color": "#0072BD", "strokeWidth": 1.5},
           "encoding": {"x": {"field": "t", "type": "quantitative", "axis": null}, "y": {"field": "v", "type": "quantitative", "axis": null}, "y2": {"datum": 0}}},
          {"mark": {"type": "rule", "color": "#E2232B", "strokeWidth": 1.2},
           "encoding": {"x": {"datum": 154, "axis": null}, "y": {"datum": 7.34, "axis": null}, "y2": {"datum": 6.0}}},
          {"mark": {"type": "point", "shape": "M-0.55,-1L0.55,-1L0,1Z", "filled": true, "color": "#E2232B", "size": 144, "opacity": 1},
           "encoding": {"x": {"datum": 154, "axis": null}, "y": {"datum": 5.93, "axis": null}}},
          {"mark": {"type": "text", "text": "Pairwise correlation", "fontSize": 17.5, "color": "#E2232B", "align": "left", "baseline": "middle", "dx": 5},
           "encoding": {"x": {"datum": 154, "axis": null}, "y": {"datum": 6.4, "axis": null}}},
          {"mark": {"type": "text", "text": "×10", "fontSize": 18, "color": "#262626", "align": "left", "baseline": "middle", "dy": -8},
           "encoding": {"x": {"datum": -300, "axis": null}, "y": {"datum": 7, "axis": null}}},
          {"mark": {"type": "text", "text": "-8", "fontSize": 14, "color": "#262626", "align": "left", "baseline": "middle", "dx": 36, "dy": -17},
           "encoding": {"x": {"datum": -300, "axis": null}, "y": {"datum": 7, "axis": null}}},
          {"mark": {"type": "text", "text": "R", "fontSize": 17, "angle": 270, "color": "#262626", "align": "center", "baseline": "middle", "dy": -42},
           "encoding": {"x": {"datum": -300, "axis": null}, "y": {"datum": 3.23, "axis": null}}},
          {"mark": {"type": "text", "text": "jk", "fontSize": 13, "angle": 270, "color": "#262626", "align": "center", "baseline": "middle", "dy": -30},
           "encoding": {"x": {"datum": -300, "axis": null}, "y": {"datum": 3.62, "axis": null}}}
        ]
      },
      {"data": {"values": [{}]}, "mark": {"type": "point", "opacity": 0},
       "encoding": {
         "x": {"datum": 0, "axis": {"orient": "top", "values": [-300,-200,-100,0,100,200,300], "labels": false, "tickSize": -5, "title": null}},
         "y": {"datum": 0, "axis": {"orient": "right", "values": [0,1,2,3,4,5,6], "labels": false, "tickSize": -9, "title": null}}
       }}
    ]
  },
  {
    "width": 916, "height": 225,
    "resolve": {"axis": {"x": "independent", "y": "independent"}},
    "layer": [
      {"data": {"name": "p2"}, "mark": {"type": "line", "color": "#0072BD", "strokeWidth": 1.1},
       "encoding": {
         "x": {"field": "t", "type": "quantitative", "scale": {"domain": [-1, 1], "nice": false, "zero": false},
               "axis": {"orient": "bottom", "values": [-1,-0.8,-0.6,-0.4,-0.2,0,0.2,0.4,0.6,0.8,1], "labelExpr": "'' + datum.value", "tickSize": -5, "labelPadding": 10, "title": "Time [sec]", "titlePadding": 1}},
         "y": {"field": "v", "type": "quantitative", "scale": {"domain": [0, 7], "nice": false},
               "axis": {"orient": "left", "values": [0,1,2,3,4,5,6], "labelExpr": "datum.value % 2 == 0 ? datum.label : ''", "tickSize": -9, "labelPadding": 17, "title": null}}
       }},
      {
        "data": {"values": [{}]},
        "layer": [
          {"mark": {"type": "rule", "color": "#E2232B", "strokeWidth": 1.2},
           "encoding": {"x": {"datum": 0.52, "axis": null}, "y": {"datum": 7.4, "axis": null}, "y2": {"datum": 6.15}}},
          {"mark": {"type": "point", "shape": "M-0.55,-1L0.55,-1L0,1Z", "filled": true, "color": "#E2232B", "size": 144, "opacity": 1},
           "encoding": {"x": {"datum": 0.52, "axis": null}, "y": {"datum": 6.07, "axis": null}}},
          {"mark": {"type": "text", "text": "Zoom in [-1 +1 sec]", "fontSize": 17.5, "color": "#E2232B", "align": "left", "baseline": "middle", "dx": 5},
           "encoding": {"x": {"datum": 0.52, "axis": null}, "y": {"datum": 6.6, "axis": null}}},
          {"mark": {"type": "text", "text": "×10", "fontSize": 18, "color": "#262626", "align": "left", "baseline": "middle", "dy": -8},
           "encoding": {"x": {"datum": -1, "axis": null}, "y": {"datum": 7, "axis": null}}},
          {"mark": {"type": "text", "text": "-8", "fontSize": 14, "color": "#262626", "align": "left", "baseline": "middle", "dx": 36, "dy": -17},
           "encoding": {"x": {"datum": -1, "axis": null}, "y": {"datum": 7, "axis": null}}},
          {"mark": {"type": "text", "text": "R", "fontSize": 17, "angle": 270, "color": "#262626", "align": "center", "baseline": "middle", "dy": -44},
           "encoding": {"x": {"datum": -1, "axis": null}, "y": {"datum": 4.06, "axis": null}}},
          {"mark": {"type": "text", "text": "jk", "fontSize": 13, "angle": 270, "color": "#262626", "align": "center", "baseline": "middle", "dy": -31},
           "encoding": {"x": {"datum": -1, "axis": null}, "y": {"datum": 4.43, "axis": null}}}
        ]
      },
      {"data": {"values": [{}]}, "mark": {"type": "point", "opacity": 0},
       "encoding": {
         "x": {"datum": 0, "axis": {"orient": "top", "values": [-1,-0.8,-0.6,-0.4,-0.2,0,0.2,0.4,0.6,0.8,1], "labels": false, "tickSize": -5, "title": null}},
         "y": {"datum": 0, "axis": {"orient": "right", "values": [0,1,2,3,4,5,6], "labels": false, "tickSize": -9, "title": null}}
       }}
    ]
  },
  {
    "width": 914, "height": 210,
    "resolve": {"axis": {"x": "independent", "y": "independent"}},
    "layer": [
      {"data": {"name": "p3"}, "mark": {"type": "line", "color": "#0072BD", "strokeWidth": 1.2, "interpolate": "monotone"},
       "encoding": {
         "x": {"field": "t", "type": "quantitative", "scale": {"domain": [-0.01, 0.01], "nice": false, "zero": false},
               "axis": {"orient": "bottom", "values": [-0.01,-0.008,-0.006,-0.004,-0.002,0,0.002,0.004,0.006,0.008,0.01], "labelExpr": "'' + datum.value", "tickSize": -5, "labelPadding": 10, "title": "Time [sec]", "titlePadding": 1}},
         "y": {"field": "v", "type": "quantitative", "scale": {"domain": [0, 7], "nice": false},
               "axis": {"orient": "left", "values": [0,1,2,3,4,5,6], "labelExpr": "datum.value % 2 == 0 ? datum.label : ''", "tickSize": -9, "labelPadding": 17, "title": null}}
       }},
      {
        "data": {"values": [{}]},
        "layer": [
          {"mark": {"type": "rule", "color": "#E2232B", "strokeWidth": 1.2},
           "encoding": {"x": {"datum": 0.00507, "axis": null}, "y": {"datum": 7.35, "axis": null}, "y2": {"datum": 6.0}}},
          {"mark": {"type": "point", "shape": "M-0.55,-1L0.55,-1L0,1Z", "filled": true, "color": "#E2232B", "size": 144, "opacity": 1},
           "encoding": {"x": {"datum": 0.00507, "axis": null}, "y": {"datum": 5.91, "axis": null}}},
          {"mark": {"type": "text", "text": "Zoom in [-.01 +.01 sec]", "fontSize": 17.5, "color": "#E2232B", "align": "left", "baseline": "middle", "dx": 4},
           "encoding": {"x": {"datum": 0.00507, "axis": null}, "y": {"datum": 6.44, "axis": null}}},
          {"mark": {"type": "text", "text": "×10", "fontSize": 18, "color": "#262626", "align": "left", "baseline": "middle", "dy": -8},
           "encoding": {"x": {"datum": -0.01, "axis": null}, "y": {"datum": 7, "axis": null}}},
          {"mark": {"type": "text", "text": "-8", "fontSize": 14, "color": "#262626", "align": "left", "baseline": "middle", "dx": 36, "dy": -17},
           "encoding": {"x": {"datum": -0.01, "axis": null}, "y": {"datum": 7, "axis": null}}},
          {"mark": {"type": "text", "text": "R", "fontSize": 17, "angle": 270, "color": "#262626", "align": "center", "baseline": "middle", "dy": -44},
           "encoding": {"x": {"datum": -0.01, "axis": null}, "y": {"datum": 3.74, "axis": null}}},
          {"mark": {"type": "text", "text": "jk", "fontSize": 13, "angle": 270, "color": "#262626", "align": "center", "baseline": "middle", "dy": -31},
           "encoding": {"x": {"datum": -0.01, "axis": null}, "y": {"datum": 4.14, "axis": null}}}
        ]
      },
      {"data": {"values": [{}]}, "mark": {"type": "point", "opacity": 0},
       "encoding": {
         "x": {"datum": 0, "axis": {"orient": "top", "values": [-0.01,-0.008,-0.006,-0.004,-0.002,0,0.002,0.004,0.006,0.008,0.01], "labels": false, "tickSize": -5, "title": null}},
         "y": {"datum": 0, "axis": {"orient": "right", "values": [0,1,2,3,4,5,6], "labels": false, "tickSize": -9, "title": null}}
       }}
    ]
  },
  {
    "width": 902, "height": 220,
    "resolve": {"axis": {"x": "independent", "y": "independent"}},
    "layer": [
      {"data": {"name": "p3"}, "mark": {"type": "line", "color": "#0072BD", "strokeWidth": 1.2, "interpolate": "monotone"},
       "encoding": {
         "x": {"field": "t", "type": "quantitative", "scale": {"domain": [-0.01, 0.01], "nice": false, "zero": false},
               "axis": {"orient": "bottom", "values": [-0.01,-0.008,-0.006,-0.004,-0.002,0,0.002,0.004,0.006,0.008,0.01], "labelExpr": "'' + datum.value", "tickSize": -5, "labelPadding": 10, "title": "Time [sec]", "titlePadding": 1, "titleX": 531}},
         "y": {"field": "v", "type": "quantitative", "scale": {"domain": [0, 6.8], "nice": false},
               "axis": {"orient": "left", "values": [0,1,2,3,4,5,6], "labelExpr": "datum.value % 2 == 0 ? datum.label : ''", "tickSize": -9, "labelPadding": 17, "title": null}}
       }},
      {
        "data": {"values": [{}]},
        "layer": [
          {"data": {"name": "p4s"}, "mark": {"type": "line", "color": "#D95319", "strokeWidth": 1.4, "interpolate": "monotone"},
           "encoding": {"x": {"field": "t", "type": "quantitative", "axis": null}, "y": {"field": "v", "type": "quantitative", "axis": null}}},
          {"data": {"name": "peaks"}, "mark": {"type": "rule", "color": "#C62830", "strokeWidth": 1.2, "strokeDash": [5, 3]},
           "encoding": {"x": {"field": "t", "type": "quantitative", "axis": null}, "y": {"field": "v", "type": "quantitative", "axis": null}, "y2": {"datum": 0}}},
          {"data": {"name": "peaks"}, "mark": {"type": "point", "shape": "M-1,0L1,0M0,-1L0,1M-0.7,-0.7L0.7,0.7M-0.7,0.7L0.7,-0.7", "filled": false, "color": "#E8141C", "strokeWidth": 1, "size": 200, "opacity": 1},
           "encoding": {"x": {"field": "t", "type": "quantitative", "axis": null}, "y": {"field": "v", "type": "quantitative", "axis": null}}},
          {"data": {"name": "peaks"}, "mark": {"type": "rule", "color": "#C62830", "strokeWidth": 1.3},
           "encoding": {"x": {"field": "t", "type": "quantitative", "axis": null}, "y": {"datum": -0.64, "axis": null}, "y2": {"datum": -0.3}}},
          {"data": {"name": "peaks"}, "mark": {"type": "point", "shape": "M-0.55,1L0.55,1L0,-1Z", "filled": true, "color": "#C62830", "size": 144, "opacity": 1},
           "encoding": {"x": {"field": "t", "type": "quantitative", "axis": null}, "y": {"datum": -0.26, "axis": null}}},
          {"data": {"name": "peaks"}, "mark": {"type": "text", "text": "ζ", "fontSize": 25, "color": "#C62830", "align": "center", "baseline": "alphabetic", "dx": -5},
           "encoding": {"x": {"field": "t", "type": "quantitative", "axis": null}, "y": {"datum": -1.54, "axis": null}}},
          {"data": {"name": "peaks"}, "mark": {"type": "text", "text": "jk", "fontSize": 16, "color": "#C62830", "align": "left", "baseline": "alphabetic", "dx": 0},
           "encoding": {"x": {"field": "t", "type": "quantitative", "axis": null}, "y": {"datum": -1.85, "axis": null}}},
          {"data": {"name": "peaks"}, "mark": {"type": "text", "fontSize": 15, "color": "#C62830", "align": "left", "baseline": "alphabetic", "dx": 10},
           "encoding": {"x": {"field": "t", "type": "quantitative", "axis": null}, "y": {"datum": -1.33, "axis": null}, "text": {"field": "lab"}}},
          {"mark": {"type": "rule", "color": "#E2232B", "strokeWidth": 1.2},
           "encoding": {"x": {"datum": 0.00513, "axis": null}, "y": {"datum": 7.19, "axis": null}, "y2": {"datum": 5.95}}},
          {"mark": {"type": "point", "shape": "M-0.55,-1L0.55,-1L0,1Z", "filled": true, "color": "#E2232B", "size": 144, "opacity": 1},
           "encoding": {"x": {"datum": 0.00513, "axis": null}, "y": {"datum": 5.86, "axis": null}}},
          {"mark": {"type": "text", "text": "Smoothing+Peak detection", "fontSize": 17.5, "color": "#E2232B", "align": "left", "baseline": "middle", "dx": 4},
           "encoding": {"x": {"datum": 0.00513, "axis": null}, "y": {"datum": 6.34, "axis": null}}},
          {"mark": {"type": "text", "text": "×10", "fontSize": 18, "color": "#262626", "align": "left", "baseline": "middle", "dy": -7},
           "encoding": {"x": {"datum": -0.01, "axis": null}, "y": {"datum": 6.8, "axis": null}}},
          {"mark": {"type": "text", "text": "-8", "fontSize": 14, "color": "#262626", "align": "left", "baseline": "middle", "dx": 36, "dy": -16},
           "encoding": {"x": {"datum": -0.01, "axis": null}, "y": {"datum": 6.8, "axis": null}}},
          {"mark": {"type": "text", "text": "R", "fontSize": 17, "angle": 270, "color": "#262626", "align": "center", "baseline": "middle", "dy": -33},
           "encoding": {"x": {"datum": -0.01, "axis": null}, "y": {"datum": 3.04, "axis": null}}},
          {"mark": {"type": "text", "text": "jk", "fontSize": 13, "angle": 270, "color": "#262626", "align": "center", "baseline": "middle", "dy": -21},
           "encoding": {"x": {"datum": -0.01, "axis": null}, "y": {"datum": 3.45, "axis": null}}}
        ]
      },
      {"data": {"values": [{}]}, "mark": {"type": "point", "opacity": 0},
       "encoding": {
         "x": {"datum": 0, "axis": {"orient": "top", "values": [-0.01,-0.008,-0.006,-0.004,-0.002,0,0.002,0.004,0.006,0.008,0.01], "labels": false, "tickSize": -5, "title": null}},
         "y": {"datum": 0, "axis": {"orient": "right", "values": [0,1,2,3,4,5,6], "labels": false, "tickSize": -9, "title": null}}
       }}
    ]
  }
]
}
